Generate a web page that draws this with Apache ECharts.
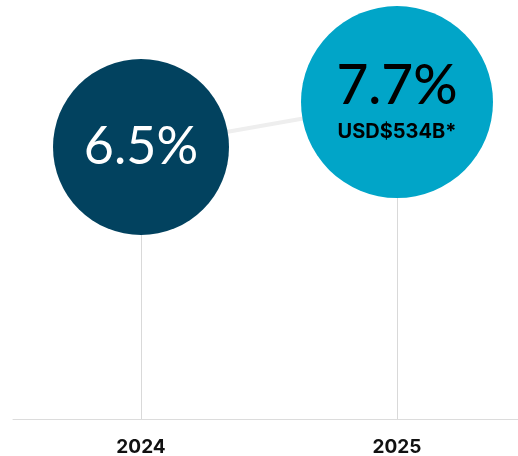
<!DOCTYPE html>
<html>
<head>
<meta charset="utf-8">
<script src="https://cdn.jsdelivr.net/npm/echarts@6/dist/echarts.min.js"></script>
<style>
  html, body { margin: 0; padding: 0; background: #fff; }
  #chart { width: 518px; height: 456px; }
</style>
</head>
<body>
<div id="chart"></div>
<script>
// data
var years = ['2024', '2025'];
var growth = [6.5, 7.7];
var subLabels = ['', 'USD$534B*'];
var bubbleSizes = [176, 192];
var bubbleColors = ['#02425f', '#01a5c8'];
var labelColors = ['#ffffff', '#000000'];

var chart = echarts.init(document.getElementById('chart'));

chart.setOption({
  animation: false,
  grid: {
    left: 13,
    right: -7,
    top: 0,
    bottom: 37,
    containLabel: false,
    outerBoundsMode: 'none'
  },
  xAxis: {
    type: 'category',
    data: years,
    axisLine: {
      show: true,
      onZero: false,
      lineStyle: { color: '#dcdcdc', width: 1 }
    },
    // vertical stems under each bubble
    axisTick: {
      show: true,
      inside: true,
      alignWithLabel: true,
      length: 300,
      lineStyle: { color: '#d9d9d9', width: 1 }
    },
    axisLabel: {
      margin: 19,
      color: '#111',
      fontSize: 19,
      fontWeight: 'bold',
      fontFamily: 'Inter'
    }
  },
  yAxis: {
    type: 'value',
    min: -0.75,
    max: 10.42,
    show: false,
    splitLine: { show: false }
  },
  series: [
    {
      type: 'line',
      data: growth.map(function (v, i) {
        return {
          value: v,
          symbolSize: bubbleSizes[i],
          itemStyle: { color: bubbleColors[i] },
          label: {
            offset: i ? [0, 4] : [0, 0],
            formatter: subLabels[i]
              ? '{big|' + v + '%}\n{sub|' + subLabels[i] + '}'
              : '{big|' + v + '%}',
            rich: {
              big: {
                color: labelColors[i],
                fontSize: i ? 55 : 52,
                fontFamily: 'Lato',
                fontWeight: i ? 500 : 'normal',
                lineHeight: i ? 52 : 56
              },
              sub: {
                color: labelColors[i],
                fontSize: 20,
                fontFamily: 'Inter',
                fontWeight: 'bold',
                lineHeight: 40
              }
            }
          }
        };
      }),
      symbol: 'circle',
      lineStyle: { color: '#eeeeee', width: 4 },
      label: {
        show: true,
        position: 'inside'
      },
      silent: true
    }
  ]
});
</script>
</body>
</html>
